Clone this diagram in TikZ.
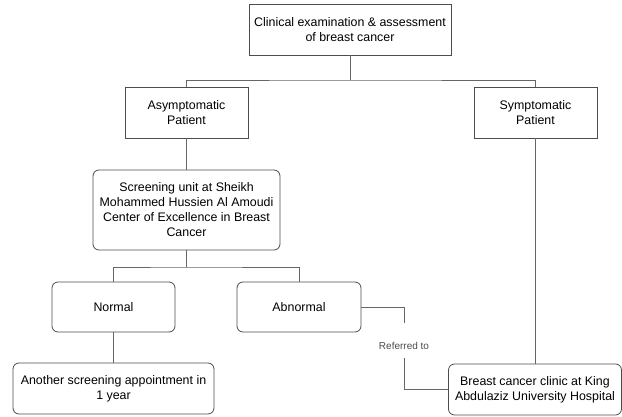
\documentclass[tikz,border=0pt]{standalone}
\usepackage{fontspec}
\setmainfont{Liberation Sans}
\begin{document}
\begin{tikzpicture}[x=1pt, y=-1pt,
  box/.style={draw=black!70, line width=0.8pt, rectangle, align=center, font=\fontsize{12.4}{15}\selectfont, inner sep=0pt},
  rbox/.style={box, rounded corners=6pt},
  link/.style={draw=black!60, line width=0.8pt},
  lbl/.style={font=\fontsize{10}{12}\selectfont, text=black!70}]
\useasboundingbox (0,0) rectangle (622,416);
% Boxes
\node[box, minimum width=202pt, minimum height=51pt] (exam) at (350,29.5) {Clinical examination \& assessment\\of breast cancer};
\node[box, minimum width=123pt, minimum height=51pt] (asym) at (186.5,112.5) {Asymptomatic\\Patient};
\node[box, minimum width=123pt, minimum height=51pt] (sym) at (535.5,112.5) {Symptomatic\\Patient};
\node[rbox, minimum width=187pt, minimum height=80pt] (screen) at (186.5,210) {Screening unit at Sheikh\\Mohammed Hussien Al Amoudi\\Center of Excellence in Breast\\Cancer};
\node[rbox, minimum width=123pt, minimum height=50pt] (normal) at (113.5,307) {Normal};
\node[rbox, minimum width=124pt, minimum height=50pt] (abnormal) at (299,307) {Abnormal};
\node[rbox, minimum width=201pt, minimum height=51pt] (another) at (113.5,388.5) {Another screening appointment in\\1 year};
\node[rbox, minimum width=173pt, minimum height=51pt] (clinic) at (535,389.5) {Breast cancer clinic at King\\Abdulaziz University Hospital};

% Connectors
\coordinate (bus1) at (350,80);
\coordinate (bus2) at (186.5,267);
\draw[link] (exam.south) -- (bus1);
\draw[link] (asym.north) |- (bus1) -| (sym.north);
\draw[link] (asym.south) -- (screen.north);
\draw[link] (screen.south) -- (bus2);
\draw[link] (normal.north) |- (bus2) -| (abnormal.north);
\draw[link] (normal.south) -- (another.north);
\draw[link] (sym.south) -- (sym.south |- clinic.north);

% Referral
\coordinate (refa) at (404,323);
\coordinate (refb) at (404,358);
\node[lbl] (refl) at (404,346) {Referred to};
\draw[link] (abnormal.east) -| (refa);
\draw[link] (refb) |- (clinic.west);
\end{tikzpicture}
\end{document}
